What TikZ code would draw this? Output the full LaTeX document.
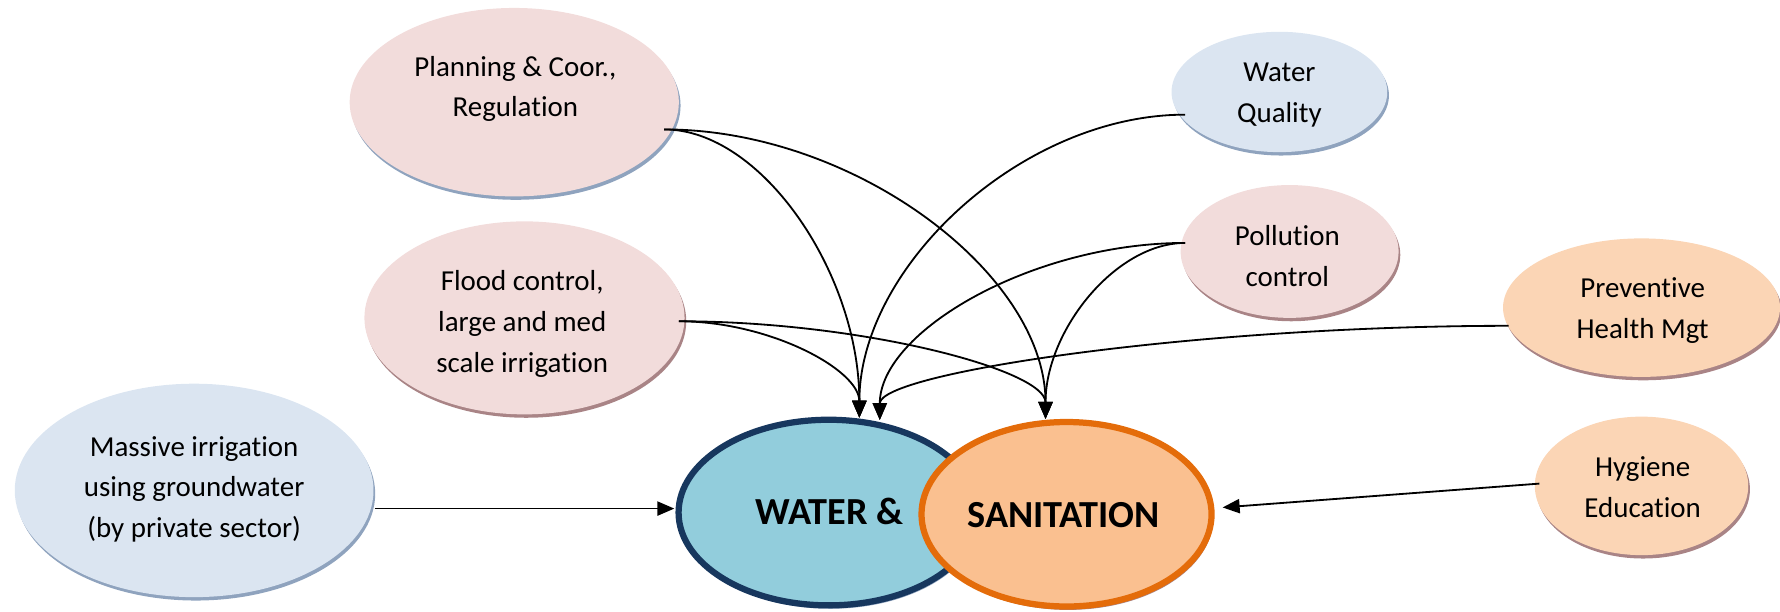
\documentclass[tikz,border=0pt]{standalone}
\usepackage{fontspec}
\setmainfont{Carlito}[Ligatures={NoCommon,NoRare}]
\usetikzlibrary{shapes.geometric,arrows.meta,calc,shadows}
\definecolor{pinkfill}{HTML}{F2DCDB}
\definecolor{bluefill}{HTML}{DBE5F1}
\definecolor{peachfill}{HTML}{FBD5B5}
\definecolor{waterfill}{HTML}{92CDDC}
\definecolor{waterline}{HTML}{17375E}
\definecolor{sanfill}{HTML}{FAC090}
\definecolor{sanline}{HTML}{E46C0A}
\definecolor{shblue}{HTML}{8FA3BE}
\definecolor{shrose}{HTML}{A98486}
\tikzset{
  bubble/.style={ellipse, inner sep=0pt, outer sep=0pt},
  shb/.style={general shadow={fill=shblue, shadow xshift=1.5pt, shadow yshift=-3pt}},
  shr/.style={general shadow={fill=shrose, shadow xshift=1.5pt, shadow yshift=-3pt}},
  lbl/.style={align=center, inner sep=0pt, font=\fontsize{25.5}{36}\selectfont},
  big/.style={inner sep=0pt, anchor=base, font=\fontsize{33.7}{38}\selectfont\bfseries},
  conn/.style={line width=1.6pt, -{Triangle[length=15pt,width=12.5pt]}},
}
\newcommand\elbowcurve[2]{%
  \path ($(#1)!0.5!(#2)$) coordinate (tmpmid);
  \draw[conn] (#1) .. controls (tmpmid |- #1) and (#2 |- tmpmid) .. (#2);}
\begin{document}
\begin{tikzpicture}[x=1pt,y=-1pt]
\useasboundingbox (0,0) rectangle (1568,539);
% outer bubbles
\node[bubble, shb, fill=pinkfill, minimum width=290pt, minimum height=166pt] (plan) at (453,90) {};
\node[bubble, shb, fill=bluefill, minimum width=190pt, minimum height=106pt] (wq) at (1127,81) {};
\node[bubble, shr, fill=pinkfill, minimum width=192pt, minimum height=117pt] (pol) at (1136,221.5) {};
\node[bubble, shr, fill=pinkfill, minimum width=282pt, minimum height=170pt] (flood) at (462,280) {};
\node[bubble, shb, fill=bluefill, minimum width=316pt, minimum height=188pt] (mass) at (171,432) {};
\node[bubble, shr, fill=peachfill, minimum width=244pt, minimum height=122pt] (prev) at (1446,271) {};
\node[bubble, shr, fill=peachfill, minimum width=188pt, minimum height=122pt] (hyg) at (1446,428) {};
% central bubbles
\node[bubble, shb, fill=waterfill, draw=waterline, line width=5.5pt, minimum width=264.5pt, minimum height=163.5pt] (water) at (730,451.5) {};
\node[bubble, shr, fill=sanfill, draw=sanline, line width=5.5pt, minimum width=255.5pt, minimum height=162.5pt] (san) at (939.5,453) {};
% labels
\node[lbl] (plant) at (454,77.8) {Planning \& Coor.,\strut\\Regulation\strut};
\node[lbl] (wqt) at (1127,82.3) {Water\strut\\Quality\strut};
\node[lbl] (polt) at (1134,227.3) {Pollution\strut\\control\strut};
\node[lbl] (floodt) at (460,284.5) {Flood control,\strut\\large and med\strut\\scale irrigation\strut};
\node[lbl] (masst) at (171,430.5) {Massive irrigation\strut\\using groundwater\strut\\(by private sector)\strut};
\node[lbl] (prevt) at (1447,272.8) {Preventive\strut\\Health Mgt\strut};
\node[lbl] (hygt) at (1447,430.8) {Hygiene\strut\\Education\strut};
\node[big] (watert) at (731,462) {WATER \&};
\node[big] (sant) at (937,465) {SANITATION};
% connection points
\coordinate (planout) at (585,114);
\coordinate (wqout) at (1044,101);
\coordinate (polout) at (1044,214);
\coordinate (floodout) at (598,283);
\coordinate (prevout) at (1329,287);
\coordinate (massout) at (330,448);
\coordinate (hygout) at (1356,426);
\coordinate (win1) at (757,368);
\coordinate (win2) at (775,370);
\coordinate (win3) at (594,448);
\coordinate (sin1) at (921,369);
\coordinate (sin2) at (1077,447);
% connectors
\elbowcurve{planout}{win1}
\elbowcurve{planout}{sin1}
\elbowcurve{wqout}{win1}
\elbowcurve{floodout}{win1}
\elbowcurve{floodout}{sin1}
\elbowcurve{polout}{win2}
\elbowcurve{polout}{sin1}
\elbowcurve{prevout}{win2}
\draw[conn] (massout) -- (win3);
\draw[conn] (hygout) -- (sin2);
\end{tikzpicture}
\end{document}
